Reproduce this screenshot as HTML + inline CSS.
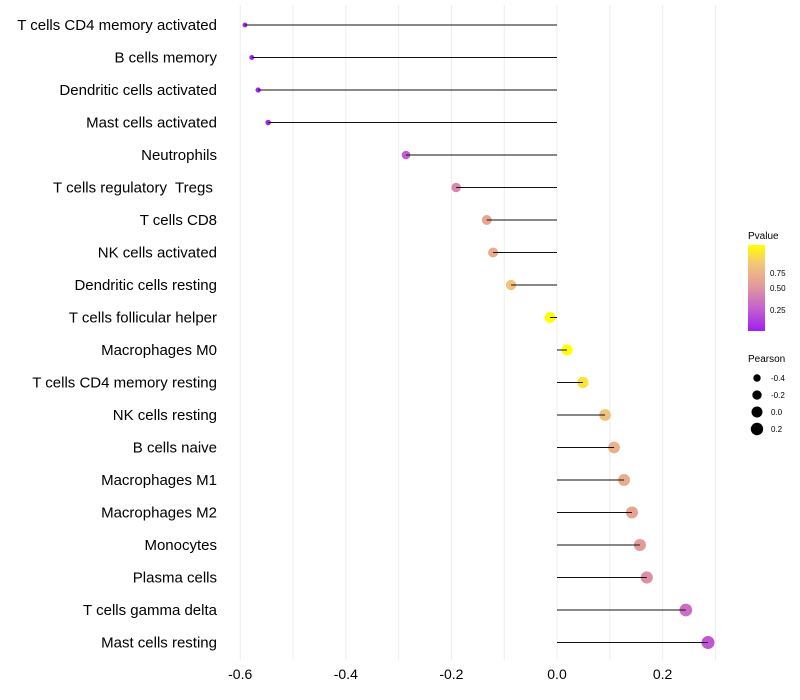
<!DOCTYPE html>
<html><head><meta charset="utf-8"><style>
html,body{margin:0;padding:0;background:#fff;}
svg{display:block;font-family:"Liberation Sans",sans-serif;}
.yl{white-space:pre;}
</style></head><body>
<svg id="chart" width="800" height="700">
<defs><linearGradient id="pg" x1="0" y1="1" x2="0" y2="0">
<stop offset="0" stop-color="#a020f0"/><stop offset="0.27" stop-color="#c563cf"/>
<stop offset="0.53" stop-color="#e39a9a"/><stop offset="0.78" stop-color="#f3c67a"/>
<stop offset="1" stop-color="#ffff00"/></linearGradient></defs>
<g id="grid"></g>
<g id="marks"></g>
<g id="ylab"></g>
<g id="xlab"></g>
<g>
<text x="748" y="239" font-size="10">Pvalue</text>
<rect x="748" y="245" width="17" height="86" fill="url(#pg)"/>
<text x="770" y="276" font-size="8">0.75</text>
<text x="770" y="291" font-size="8">0.50</text>
<text x="770" y="313" font-size="8">0.25</text>
</g>
<g id="sizeleg">
<text x="748" y="362" font-size="10">Pearson</text>
</g>
</svg>
<script>
const categories=["T cells CD4 memory activated","B cells memory","Dendritic cells activated","Mast cells activated","Neutrophils","T cells regulatory  Tregs ","T cells CD8","NK cells activated","Dendritic cells resting","T cells follicular helper","Macrophages M0","T cells CD4 memory resting","NK cells resting","B cells naive","Macrophages M1","Macrophages M2","Monocytes","Plasma cells","T cells gamma delta","Mast cells resting"];
const pearson=[-0.591,-0.578,-0.566,-0.547,-0.286,-0.191,-0.133,-0.121,-0.087,-0.013,0.019,0.049,0.091,0.108,0.127,0.142,0.157,0.170,0.244,0.286];
const pvalues=[0.02,0.02,0.03,0.03,0.22,0.42,0.57,0.6,0.72,0.97,0.95,0.85,0.72,0.63,0.6,0.55,0.5,0.45,0.3,0.2];
const xTicks=[-0.6,-0.4,-0.2,0,0.2];
const sizeTicks=[-0.4,-0.2,0,0.2];
const NS="http://www.w3.org/2000/svg";
const x=v=>557+v*528;
const y=i=>25+i*32.5;
const r=v=>Math.sqrt(Math.max(2,13.7+(v+0.4)*41));
const stops=[[0,[160,32,240]],[0.25,[197,99,207]],[0.5,[227,154,154]],[0.75,[243,198,122]],[0.95,[255,255,0]]];
function col(p){p=Math.min(0.95,Math.max(0,p));for(let k=0;k<stops.length-1;k++){const a=stops[k],b=stops[k+1];if(p<=b[0]){const t=(p-a[0])/(b[0]-a[0]);return "rgb("+a[1].map((c,j)=>Math.round(c+(b[1][j]-c)*t)).join(",")+")";}}return "rgb(255,255,0)";}
function mk(t,at,parent){const e=document.createElementNS(NS,t);for(const k in at)e.setAttribute(k,at[k]);parent.appendChild(e);return e;}
const grid=document.getElementById('grid'),marks=document.getElementById('marks'),yl=document.getElementById('ylab'),xl=document.getElementById('xlab');
for(let v=-0.6;v<=0.31;v+=0.1){const g=mk('line',{x1:x(v),x2:x(v),y1:5,y2:660,stroke:'#ededed','stroke-width':1},grid);

}
xTicks.forEach(v=>{const t=mk('text',{x:x(v),y:679,'font-size':14,'text-anchor':'middle',fill:'#000'},xl);t.textContent=(v===0?"0.0":v.toFixed(1));

});
categories.forEach((c,i)=>{const t=mk('text',{x:217,y:y(i)+5,'font-size':15,'text-anchor':'end',fill:'#000','class':'yl'},yl);t.textContent=c;


const d=mk('circle',{cx:x(pearson[i]),cy:y(i),r:r(pearson[i]),fill:col(pvalues[i])},marks);


const l=mk('line',{x1:x(0),x2:x(pearson[i]),y1:y(i),y2:y(i),stroke:'#111','stroke-width':1},marks);

});
const sl=document.getElementById('sizeleg');
sizeTicks.forEach((v,k)=>{const yy=378+k*17;const c=mk('circle',{cx:757,cy:yy,r:r(v),fill:'#000'},sl);


const t=mk('text',{x:771,y:yy+3,'font-size':8},sl);t.textContent=(v===0?"0.0":v.toFixed(1));

});
</script>
</body></html>
